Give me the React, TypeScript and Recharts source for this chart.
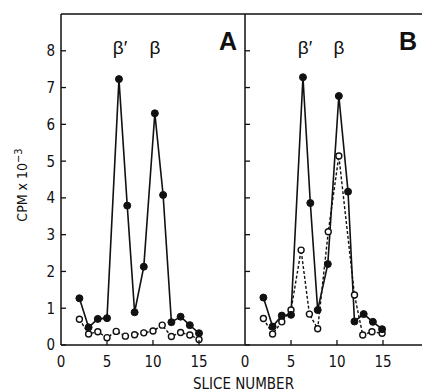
// Two-panel slice profile (A / B) — Recharts LineChart, filled vs open series.
import { LineChart, Line, XAxis, YAxis } from "recharts";

const sliceTicks = [0, 5, 10, 15];
const cpmTicks = [0, 1, 2, 3, 4, 5, 6, 7, 8];

// panel A
const aFilledSlice = [2, 3, 4, 5, 6.3, 7.2, 8, 9, 10.2, 11.1, 12, 13, 14, 15];
const aFilledCpm = [1.27, 0.48, 0.71, 0.73, 7.23, 3.79, 0.89, 2.13, 6.3, 4.08, 0.62, 0.77, 0.54, 0.32];
const aOpenSlice = [2, 3, 4, 5, 6, 7, 8, 9, 10, 11, 12, 13, 14, 15];
const aOpenCpm = [0.7, 0.3, 0.36, 0.2, 0.37, 0.24, 0.28, 0.33, 0.38, 0.54, 0.23, 0.34, 0.27, 0.15];

// panel B
const bFilledSlice = [2, 3, 4, 5, 6.3, 7.1, 7.9, 9, 10.2, 11.2, 11.9, 12.9, 13.9, 14.9];
const bFilledCpm = [1.29, 0.5, 0.8, 0.82, 7.28, 3.86, 0.95, 2.2, 6.77, 4.17, 0.64, 0.84, 0.63, 0.43];
const bOpenSlice = [2, 3, 4, 5, 6.1, 7, 7.9, 9.05, 10.2, 11.9, 12.8, 13.8, 14.9];
const bOpenCpm = [0.72, 0.3, 0.63, 0.95, 2.58, 0.84, 0.44, 3.08, 5.14, 1.36, 0.27, 0.36, 0.32];

const zip = (xs: number[], ys: number[]) => xs.map((x, i) => ({ slice: x, cpm: ys[i] }));

const FONT = "'DejaVu Sans Condensed', sans-serif";
const INK = "#111";
const AXIS = { stroke: INK, strokeWidth: 1.5 };

const filledDot = { r: 3.5, fill: INK, stroke: INK, strokeWidth: 1, strokeDasharray: "none" };
const openDot = { r: 3, fill: "#fff", stroke: INK, strokeWidth: 1.4, strokeDasharray: "none" };

type Pt = { slice: number; cpm: number };

// left axis of A: tick points inward, label outside (x is axis - 6)
function YTickLabelled(props: any) {
  const { x, y, payload } = props;
  return (
    <g>
      <line x1={x + 6} x2={x + 11} y1={y} y2={y} stroke={INK} strokeWidth={1.3} />
      <text x={x} y={y} dy="0.36em" textAnchor="end" fontSize={15} fontFamily={FONT} fill={INK}>
        {payload.value}
      </text>
    </g>
  );
}

// left axis of B (mirrored): tick only, pointing into B
function YTickBare(props: any) {
  const { x, y } = props;
  return <line x1={x} x2={x + 5} y1={y} y2={y} stroke={INK} strokeWidth={1.3} />;
}

// bottom axis: tick points up, label below (y is axis + 11)
function XTick(props: any) {
  const { x, y, payload } = props;
  const ay = y - 11;
  return (
    <g>
      {payload.value !== 0 && <line x1={x} x2={x} y1={ay} y2={ay - 5} stroke={INK} strokeWidth={1.3} />}
      <text x={x} y={y} dy="0.71em" textAnchor="middle" fontSize={15} fontFamily={FONT} fill={INK}>
        {payload.value}
      </text>
    </g>
  );
}

function Panel({
  filled,
  open,
  width,
  margin,
  isLeft,
}: {
  filled: Pt[];
  open: Pt[];
  width: number;
  margin: { top: number; right: number; bottom: number; left: number };
  isLeft: boolean;
}) {
  return (
    <LineChart width={width} height={392} margin={margin} style={{ overflow: "visible" }}>
      <XAxis
        dataKey="slice"
        type="number"
        domain={[0, 20]}
        ticks={sliceTicks}
        allowDataOverflow
        axisLine={AXIS}
        tickLine={false}
        tickSize={0}
        tickMargin={11}
        tick={(p: any) => <XTick {...p} />}
        height={47}
      />
      <XAxis
        xAxisId="top"
        orientation="top"
        dataKey="slice"
        type="number"
        domain={[0, 20]}
        mirror
        axisLine={AXIS}
        tick={false}
        tickLine={false}
      />
      {isLeft ? (
        <YAxis
          type="number"
          domain={[0, 9]}
          ticks={cpmTicks}
          axisLine={AXIS}
          tickLine={false}
          tickSize={0}
          tickMargin={6}
          tick={(p: any) => <YTickLabelled {...p} />}
          width={40}
        />
      ) : (
        <YAxis
          type="number"
          domain={[0, 9]}
          ticks={cpmTicks}
          mirror
          axisLine={AXIS}
          tickLine={false}
          tickSize={0}
          tickMargin={0}
          tick={(p: any) => <YTickBare {...p} />}
        />
      )}
      <Line
        data={open}
        dataKey="cpm"
        type="linear"
        stroke={INK}
        strokeWidth={1.4}
        strokeDasharray="3 2"
        dot={openDot}
        activeDot={false}
        isAnimationActive={false}
      />
      <Line
        data={filled}
        dataKey="cpm"
        type="linear"
        stroke={INK}
        strokeWidth={1.6}
        dot={filledDot}
        activeDot={false}
        isAnimationActive={false}
      />
    </LineChart>
  );
}

export default function App() {
  return (
    <div
      style={{
        position: "absolute",
        left: 0,
        top: 0,
        width: 422,
        height: 392,
        overflow: "hidden",
        background: "#fff",
      }}
    >
      <div style={{ position: "absolute", left: 0, top: 0 }}>
        <Panel
          filled={zip(aFilledSlice, aFilledCpm)}
          open={zip(aOpenSlice, aOpenCpm)}
          width={260}
          margin={{ top: 14, right: 15, bottom: 0, left: 21 }}
          isLeft
        />
      </div>
      <div style={{ position: "absolute", left: 230, top: 0 }}>
        <Panel
          filled={zip(bFilledSlice, bFilledCpm)}
          open={zip(bOpenSlice, bOpenCpm)}
          width={210}
          margin={{ top: 14, right: 11, bottom: 0, left: 15 }}
          isLeft={false}
        />
      </div>
      <svg width={422} height={392} style={{ position: "absolute", left: 0, top: 0, pointerEvents: "none" }}>
        <g fontFamily="'Liberation Sans', Arial, sans-serif" fill={INK}>
          <text x={120} y={54} fontSize={19} textAnchor="middle">β′</text>
          <text x={155} y={54} fontSize={19} textAnchor="middle">β</text>
          <text x={305} y={54} fontSize={19} textAnchor="middle">β′</text>
          <text x={339} y={54} fontSize={19} textAnchor="middle">β</text>
          <text x={228} y={50} fontSize={25} fontWeight="bold" textAnchor="middle">A</text>
          <text x={408} y={50} fontSize={25} fontWeight="bold" textAnchor="middle">B</text>
        </g>
        <text
          x={193}
          y={389}
          fontSize={16}
          fontFamily={FONT}
          textLength={101}
          lengthAdjust="spacingAndGlyphs"
          fill={INK}
        >
          SLICE NUMBER
        </text>
        <text
          transform="translate(27,185) rotate(-90)"
          fontSize={14}
          fontFamily={FONT}
          textAnchor="middle"
          fill={INK}
        >
          CPM x 10
          <tspan dy={-5} fontSize={11}>−3</tspan>
        </text>
      </svg>
    </div>
  );
}
